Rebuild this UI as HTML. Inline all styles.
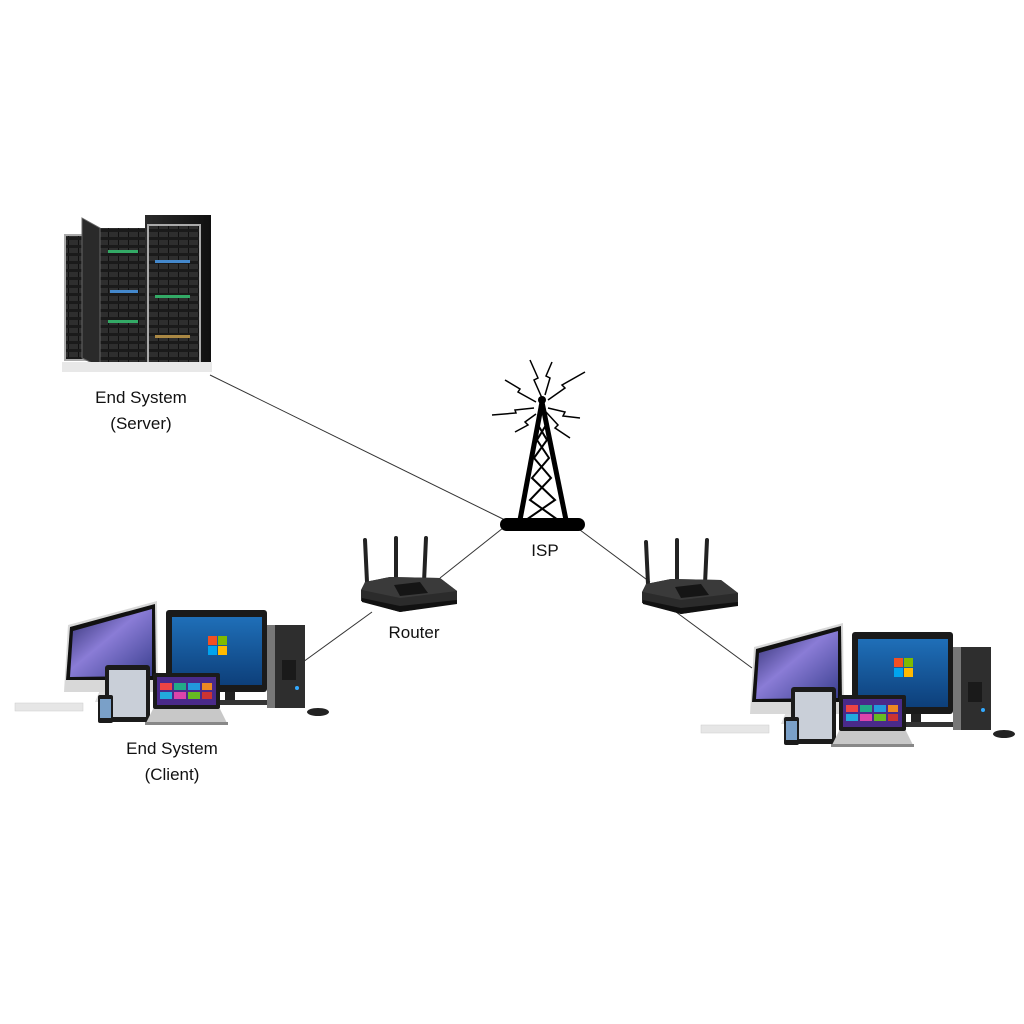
<!DOCTYPE html>
<html><head><style>
body{margin:0;background:#fff;}
svg{display:block;}
text{font-family:"Liberation Sans",sans-serif;font-size:17px;fill:#111;}
</style></head><body>
<svg width="1024" height="1024" viewBox="0 0 1024 1024">
<defs>
<linearGradient id="imac" x1="0" y1="0" x2="1" y2="1">
<stop offset="0" stop-color="#2a2a6a"/><stop offset="0.45" stop-color="#8a7cd6"/><stop offset="1" stop-color="#3a3f8f"/></linearGradient>
<linearGradient id="win" x1="0" y1="0" x2="0" y2="1">
<stop offset="0" stop-color="#1f6fb8"/><stop offset="1" stop-color="#0d3f7a"/></linearGradient>
<linearGradient id="rack" x1="0" y1="0" x2="1" y2="0">
<stop offset="0" stop-color="#2a2a2a"/><stop offset="1" stop-color="#101010"/></linearGradient>
<pattern id="rows" width="10" height="8" patternUnits="userSpaceOnUse">
<rect width="10" height="8" fill="#1a1a1a"/><rect y="0" width="10" height="5" fill="#2e2e2e"/><rect x="8" y="0" width="1" height="5" fill="#111"/></pattern>
<g id="router">
<line x1="365" y1="540" x2="367" y2="582" stroke="#222" stroke-width="4" stroke-linecap="round"/>
<line x1="396" y1="538" x2="396" y2="582" stroke="#222" stroke-width="4" stroke-linecap="round"/>
<line x1="426" y1="538" x2="424" y2="582" stroke="#222" stroke-width="4" stroke-linecap="round"/>
<polygon points="365,582 390,577 440,578 457,591 457,603 400,612 361,601 361,590" fill="#2b2b2b"/>
<polygon points="365,582 390,577 440,578 457,591 400,598 362,590" fill="#3a3a3a"/>
<polygon points="394,585 420,582 428,593 400,596" fill="#151515"/>
<polygon points="362,598 400,606 457,600 457,604 400,612 362,602" fill="#111"/>
</g>
<g id="client">
<rect x="15" y="703" width="68" height="8" fill="#e6e6e6" stroke="#ccc" stroke-width="0.5"/>
<polygon points="100,690 125,690 130,702 95,702" fill="#ddd"/>
<polygon points="68,625 157,601 158,692 64,692" fill="#d8d8d8"/>
<polygon points="70,627 155,604 156,680 66,680" fill="#111"/>
<polygon points="73,631 152,609 152,676 70,677" fill="url(#imac)"/>
<rect x="166" y="610" width="101" height="82" rx="3" fill="#1a1a1a"/>
<rect x="172" y="617" width="90" height="68" fill="url(#win)"/>
<rect x="208" y="636" width="9" height="9" fill="#f25022"/><rect x="218" y="636" width="9" height="9" fill="#7fba00"/>
<rect x="208" y="646" width="9" height="9" fill="#00a4ef"/><rect x="218" y="646" width="9" height="9" fill="#ffb900"/>
<rect x="225" y="692" width="10" height="8" fill="#222"/>
<rect x="210" y="700" width="80" height="5" fill="#333"/>
<rect x="267" y="625" width="38" height="83" fill="#2e2e2e"/>
<rect x="267" y="625" width="8" height="83" fill="#777"/>
<rect x="282" y="660" width="14" height="20" fill="#1a1a1a"/>
<circle cx="297" cy="688" r="2" fill="#3af"/>
<ellipse cx="318" cy="712" rx="11" ry="4" fill="#222"/>
<rect x="105" y="665" width="45" height="57" rx="3" fill="#1b1b1b"/>
<rect x="109" y="670" width="37" height="47" fill="#c9cfd8"/>
<rect x="98" y="695" width="15" height="28" rx="2" fill="#1b1b1b"/>
<rect x="100" y="699" width="11" height="19" fill="#7aa0c8"/>
<rect x="153" y="673" width="67" height="36" rx="2" fill="#1b1b1b"/>
<rect x="157" y="677" width="59" height="28" fill="#4a2a8a"/>
<rect x="160" y="683" width="12" height="7" fill="#e44"/><rect x="174" y="683" width="12" height="7" fill="#2a8"/><rect x="188" y="683" width="12" height="7" fill="#29d"/><rect x="202" y="683" width="10" height="7" fill="#e82"/>
<rect x="160" y="692" width="12" height="7" fill="#2ad"/><rect x="174" y="692" width="12" height="7" fill="#d4a"/><rect x="188" y="692" width="12" height="7" fill="#6b2"/><rect x="202" y="692" width="10" height="7" fill="#c33"/>
<polygon points="153,709 220,709 228,725 145,725" fill="#c8c8c8"/>
<polygon points="145,722 228,722 228,725 145,725" fill="#888"/>
</g>
</defs>
<g stroke="#333" stroke-width="1">
<line x1="210" y1="375" x2="505" y2="520"/>
<line x1="503" y1="528" x2="440" y2="578"/>
<line x1="372" y1="612" x2="303" y2="662"/>
<line x1="580" y1="530" x2="650" y2="582"/>
<line x1="676" y1="612" x2="752" y2="668"/>
</g>
<!-- server -->
<rect x="65" y="235" width="35" height="125" fill="url(#rows)" stroke="#aaa" stroke-width="2"/>
<rect x="100" y="228" width="46" height="134" fill="url(#rows)"/>
<rect x="145" y="215" width="66" height="157" fill="url(#rack)"/>
<rect x="148" y="225" width="52" height="138" fill="url(#rows)" stroke="#aaa" stroke-width="2"/>
<polygon points="82,218 100,228 100,367 82,358" fill="#2a2a2a" stroke="#666"/>
<rect x="62" y="362" width="150" height="10" fill="#e8e8e8"/>
<g>
<rect x="108" y="250" width="30" height="3" fill="#3a6"/><rect x="110" y="290" width="28" height="3" fill="#48c"/><rect x="108" y="320" width="30" height="3" fill="#3a6"/><rect x="155" y="260" width="35" height="3" fill="#48c"/><rect x="155" y="295" width="35" height="3" fill="#3a6"/><rect x="155" y="335" width="35" height="3" fill="#a84"/>
</g>
<text x="141" y="403" text-anchor="middle">End System</text>
<text x="141" y="429" text-anchor="middle">(Server)</text>
<!-- tower -->
<g stroke="#000" fill="none">
<line x1="542" y1="402" x2="520" y2="520" stroke-width="5"/>
<line x1="542" y1="402" x2="566" y2="520" stroke-width="5"/>
<path d="M538,425 L547,440 L534,458 L551,478 L530,500 L558,520 M546,425 L537,440 L549,458 L532,478 L555,500 L526,520" stroke-width="2"/>
<g stroke-width="1.5">
<polyline points="542,398 534,380 538,378 530,360"/>
<polyline points="545,395 550,378 546,376 552,362"/>
<polyline points="548,400 565,388 562,385 585,372"/>
<polyline points="548,408 565,412 563,416 580,418"/>
<polyline points="546,412 558,425 555,428 570,438"/>
<polyline points="536,402 518,392 520,389 505,380"/>
<polyline points="534,408 515,410 516,413 492,415"/>
<polyline points="536,414 525,422 528,425 515,432"/>
</g>
</g>
<circle cx="542" cy="400" r="4" fill="#000"/>
<rect x="500" y="518" width="85" height="13" rx="6.5" fill="#000"/>
<text x="545" y="556" text-anchor="middle">ISP</text>
<use href="#router"/>
<use href="#router" transform="translate(281,2)"/>
<text x="414" y="638" text-anchor="middle">Router</text>
<use href="#client"/>
<use href="#client" transform="translate(686,22)"/>
<text x="172" y="754" text-anchor="middle">End System</text>
<text x="172" y="780" text-anchor="middle">(Client)</text>
</svg>
</body></html>
